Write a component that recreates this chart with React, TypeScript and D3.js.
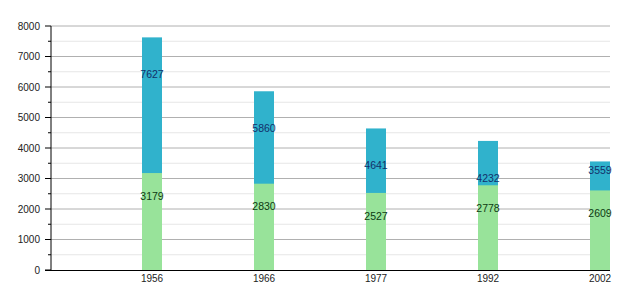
import React from "react";
import * as d3 from "d3";

const years = ["1956", "1966", "1977", "1992", "2002"];
const totalValues = [7627, 5860, 4641, 4232, 3559];
const baseValues = [3179, 2830, 2527, 2778, 2609];
const yTicks = [0, 1000, 2000, 3000, 4000, 5000, 6000, 7000, 8000];

const W = 630, H = 300;
const left = 51, right = 610, top = 26, bottom = 270;
const barW = 20;

export default function App() {
  const x = d3.scaleBand<string>().domain(years).range([left - 1, right]).padding(0);
  const y = d3.scaleLinear().domain([0, 8000]).range([bottom, top]);
  const minor = d3.range(500, 8000, 1000);
  const font = "Liberation Sans, Arial, sans-serif";
  const bx = (yr: string) => (x(yr) as number) + x.bandwidth() - barW;
  return (
    <svg width={W} height={H} style={{ position: "absolute", left: 0, top: 0 }} fontFamily={font}>
      <rect width={W} height={H} fill="#fff" />
      {minor.map((v) => (
        <line key={"m" + v} x1={left} x2={right} y1={y(v)} y2={y(v)} stroke="#e6e6e6" strokeWidth={1} />
      ))}
      {yTicks.slice(1).map((v) => (
        <line key={"g" + v} x1={left} x2={right} y1={y(v)} y2={y(v)} stroke="#b0b0b0" strokeWidth={1} />
      ))}
      {years.map((yr, i) => (
        <g key={yr}>
          <rect x={bx(yr)} width={barW} y={y(totalValues[i])} height={bottom - y(totalValues[i])} fill="#30b2cc" />
          <rect x={bx(yr)} width={barW} y={y(baseValues[i])} height={bottom - y(baseValues[i])} fill="#98e39a" />
        </g>
      ))}
      {years.map((yr, i) => {
        const cx = bx(yr) + barW / 2;
        const seg = y(baseValues[i]) - y(totalValues[i]);
        const blueY = seg > 40 ? y(totalValues[i]) + 37 : y(totalValues[i]) + 9;
        return (
          <g key={"l" + yr} fontSize={10.5} textAnchor="middle">
            <text x={cx} y={blueY} dy="0.35em" fill="#12306a">{totalValues[i]}</text>
            <text x={cx} y={y(baseValues[i]) + 23} dy="0.35em" fill="#0d3a12">{baseValues[i]}</text>
          </g>
        );
      })}
      <line x1={left} x2={left} y1={top} y2={bottom} stroke="#000" />
      <line x1={left - 6} x2={right} y1={bottom + 0.5} y2={bottom + 0.5} stroke="#000" strokeWidth={1.2} />
      {yTicks.map((v) => (
        <g key={"t" + v}>
          <line x1={left - 6} x2={left} y1={y(v)} y2={y(v)} stroke="#000" />
          <text x={left - 11} y={y(v)} dy="0.35em" textAnchor="end" fontSize={10} fill="#222">{v}</text>
        </g>
      ))}
      {minor.map((v) => (
        <line key={"mt" + v} x1={left - 3} x2={left} y1={y(v)} y2={y(v)} stroke="#000" />
      ))}
      {years.map((yr) => (
        <text key={"x" + yr} x={bx(yr) + barW / 2} y={278} dy="0.35em" textAnchor="middle" fontSize={10} fill="#222">{yr}</text>
      ))}
    </svg>
  );
}
